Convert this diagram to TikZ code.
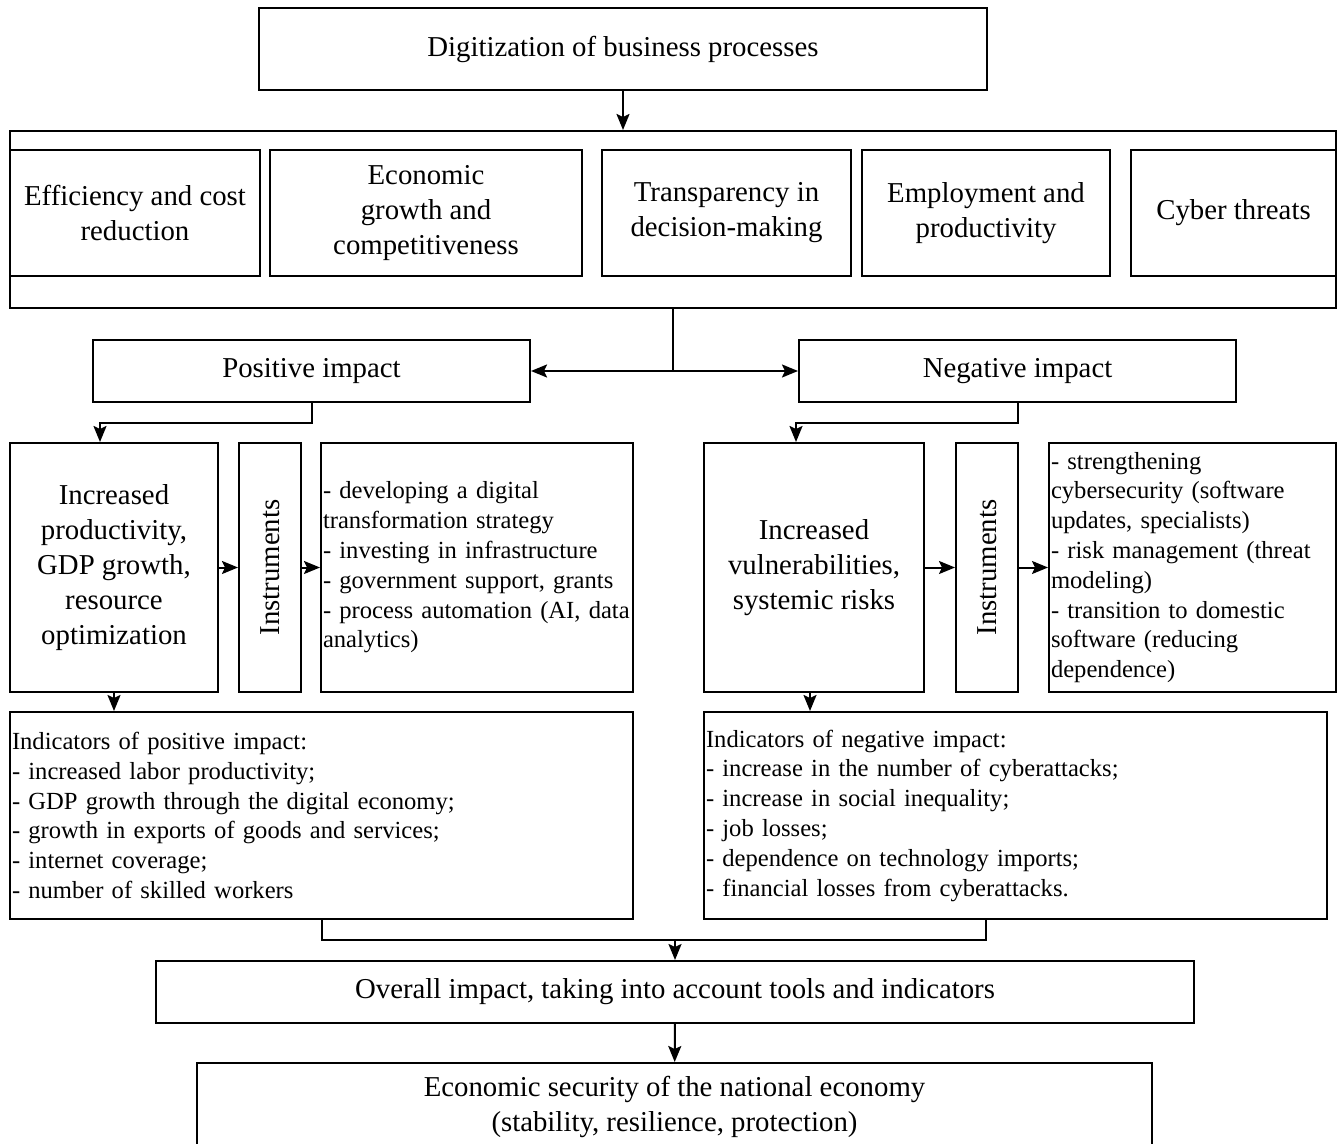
\documentclass[tikz,border=0pt]{standalone}
\usepackage{fontspec}
\setmainfont{Liberation Serif}
\usetikzlibrary{arrows.meta}
\newcommand{\bigtxt}{\fontsize{14.4}{17.5}\selectfont}
\newcommand{\smtxt}{\fontsize{12.3}{14.9}\selectfont}
\tikzset{
  box/.style={draw, line width=1pt, align=center, inner sep=1pt, font=\bigtxt},
  listbox/.style={box, align=left, font=\smtxt},
  link/.style={line width=1pt},
  arr/.style={line width=1pt, -{Stealth[length=8pt,width=6.5pt,inset=1.5pt]}}
}
\begin{document}
\begin{tikzpicture}[x=0.5pt, y=-0.5pt]
    \useasboundingbox (0,0) rectangle (1337,1144);
    % top
    \node[box, minimum width=364pt, minimum height=41pt] (digit) at (623,49) {Digitization of business processes};
    \node[box, minimum width=663pt, minimum height=88.5pt] (aspects) at (673,219.5) {};
    \node[box, minimum width=125pt, minimum height=63pt] (eff) at (135,213) {Efficiency and cost\\reduction};
    \node[box, minimum width=156pt, minimum height=63pt] (econ) at (426,213) {Economic\\growth and\\competitiveness};
    \node[box, minimum width=124.5pt, minimum height=63pt] (trans) at (726.5,213) {Transparency in\\decision-making};
    \node[box, minimum width=124pt, minimum height=63pt] (empl) at (986,213) {Employment and\\productivity};
    \node[box, minimum width=102.5pt, minimum height=63pt] (cyber) at (1233.5,213) {Cyber threats};
    % impact
    \node[box, minimum width=218.5pt, minimum height=31pt] (pos) at (311.5,371) {Positive impact};
    \node[box, minimum width=218.5pt, minimum height=31pt] (neg) at (1017.5,371) {Negative impact};
    % positive branch
    \node[box, minimum width=104pt, minimum height=124.5pt] (incP) at (114,567.5) {Increased\\productivity,\\GDP growth,\\resource\\optimization};
    \node[box, minimum width=31pt, minimum height=124.5pt] (instrP) at (270,567.5) {\rotatebox{90}{Instruments}};
    \node[listbox, minimum width=156pt, minimum height=124.5pt, text width=154pt] (toolsP) at (477,567.5) {- developing a digital\\transformation strategy\\- investing in infrastructure\\- government support, grants\\- process automation (AI, data\\analytics)};
    \node[listbox, minimum width=311.5pt, minimum height=103.5pt, text width=309.5pt] (indP) at (321.5,815.5) {Indicators of positive impact:\\- increased labor productivity;\\- GDP growth through the digital economy;\\- growth in exports of goods and services;\\- internet coverage;\\- number of skilled workers};
    % negative branch
    \node[box, minimum width=110pt, minimum height=124.5pt] (incN) at (814,567.5) {Increased\\vulnerabilities,\\systemic risks};
    \node[box, minimum width=31pt, minimum height=124.5pt] (instrN) at (987,567.5) {\rotatebox{90}{Instruments}};
    \node[listbox, minimum width=143.5pt, minimum height=124.5pt, text width=141.5pt] (toolsN) at (1192.5,567.5) {- strengthening\\cybersecurity (software\\updates, specialists)\\- risk management (threat\\modeling)\\- transition to domestic\\software (reducing\\dependence)};
    \node[listbox, minimum width=311.5pt, minimum height=103.5pt, text width=309.5pt] (indN) at (1015.5,815.5) {Indicators of negative impact:\\- increase in the number of cyberattacks;\\- increase in social inequality;\\- job losses;\\- dependence on technology imports;\\- financial losses from cyberattacks.};
    % bottom
    \node[box, minimum width=519pt, minimum height=31pt] (overall) at (675,992) {Overall impact, taking into account tools and indicators};
    \node[box, minimum width=477.5pt, minimum height=43.5pt] (secur) at (674.5,1106.5) {Economic security of the national economy\\(stability, resilience, protection)};
    \coordinate (split) at (aspects.south |- pos.east);
    \coordinate (join) at ([yshift=10.5pt]overall.north);
    % connectors
    \draw[arr] (digit) -- (digit |- aspects.north);
    \draw[link] (aspects.south) -- (split);
    \draw[arr] (split) -- (pos.east);
    \draw[arr] (split) -- (neg.west);
    \draw[arr] (pos.south) -- ++(0,20) -| ([xshift=-7pt]incP.north);
    \draw[arr] (neg.south) -- ++(0,20) -| ([xshift=-9pt]incN.north);
    \draw[arr] (incP) -- (instrP);
    \draw[arr] (instrP) -- (toolsP);
    \draw[arr] (incN) -- (instrN);
    \draw[arr] (instrN) -- (toolsN);
    \draw[arr] (incP.south) -- (incP.south |- indP.north);
    \draw[arr] ([xshift=-2pt]incN.south) -- ([xshift=-2pt]incN.south |- indN.north);
    \draw[link] (indP.south) -- ++(0,20) -| ([xshift=-14.75pt]indN.south);
    \draw[arr] (join) -- (overall.north);
    \draw[arr] (overall) -- (secur);
\end{tikzpicture}
\end{document}
